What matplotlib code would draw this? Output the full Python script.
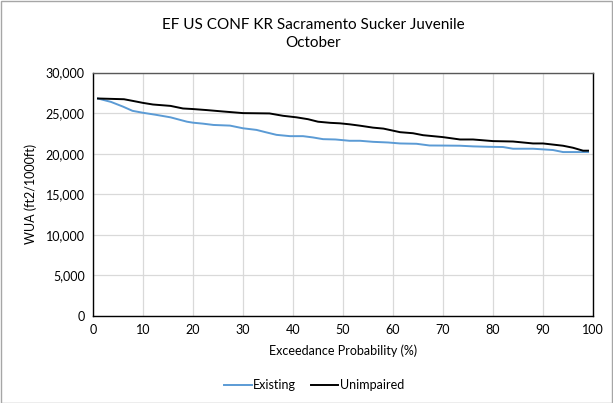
import matplotlib
matplotlib.use("Agg")
from matplotlib import pyplot as plt
from matplotlib.patches import Rectangle

# exceedance probability (%) and WUA (ft2/1000ft)
existing_x = [1, 3.6, 6, 7.9, 10, 12.5, 15.5, 18.8, 20, 22, 24.1, 27.4, 30, 32.7,
              34.5, 36.7, 39.4, 42, 44, 46, 48.5, 51.3, 53.4, 56, 59, 61.4, 64.7,
              67.3, 70, 73.4, 76, 79, 82, 84, 88, 92, 94, 96, 99]
existing_y = [26800, 26380, 25800, 25280, 25040, 24800, 24480, 23940, 23820, 23700,
              23540, 23460, 23130, 22930, 22650, 22320, 22160, 22160, 22000, 21790,
              21750, 21590, 21590, 21460, 21380, 21260, 21220, 21010, 21000, 20980,
              20900, 20850, 20820, 20610, 20610, 20450, 20200, 20200, 20200]

unimpaired_x = [1, 6.2, 8, 10, 12, 15.5, 18, 20, 22.8, 26, 30, 35.3, 38, 40.7, 43,
                45, 47.5, 49.4, 51.3, 53.4, 56, 58.1, 61.4, 64, 66, 70, 73.4, 76,
                80, 84, 88, 90, 94, 96, 98, 99]
unimpaired_y = [26800, 26710, 26500, 26260, 26060, 25890, 25570, 25500, 25370, 25200,
                25000, 24960, 24670, 24480, 24250, 23940, 23800, 23740, 23620, 23450,
                23210, 23090, 22650, 22520, 22280, 22040, 21750, 21750, 21550, 21500,
                21260, 21260, 20980, 20730, 20370, 20370]

x_ticks = list(range(0, 101, 10))
y_ticks = list(range(0, 30001, 5000))

plt.rcParams['font.family'] = ['Lato', 'DejaVu Sans']

fig = plt.figure(figsize=(6.13, 4.03), dpi=100)
ax = fig.add_axes([0.1517, 0.216, 0.8157, 0.604])

ax.plot(existing_x, existing_y, color='#5b9bd5', lw=1.4, label='Existing')
ax.plot(unimpaired_x, unimpaired_y, color='black', lw=1.4, label='Unimpaired')

ax.set_xlim(0, 100)
ax.set_ylim(0, 30000)
ax.set_xticks(x_ticks)
ax.set_yticks(y_ticks)
ax.set_yticklabels([f"{v:,}" for v in y_ticks])
ax.grid(True, color='#d9d9d9', lw=0.9)
ax.set_axisbelow(True)
ax.tick_params(length=0, labelsize=9, colors='black', pad=6)
for s in ax.spines.values():
    s.set_color('black')
    s.set_linewidth(1.0)
ax.spines['top'].set_color('#595959')

ax.set_xlabel('Exceedance Probability (%)', fontsize=9, labelpad=6)
ax.set_ylabel('WUA (ft2/1000ft)', fontsize=9, labelpad=6)
fig.text(0.511, 0.915, 'EF US CONF KR Sacramento Sucker Juvenile\nOctober',
         ha='center', va='center', fontsize=11, linespacing=1.35)

ax.legend(loc='center', bbox_to_anchor=(0.442, -0.284), ncol=2, frameon=False,
          fontsize=9, handlelength=2.2, handletextpad=0.1, columnspacing=1.2)

fig.patches.append(Rectangle((0.001, 0.001), 0.997, 0.997, transform=fig.transFigure,
                             fill=False, edgecolor='#a6a6a6', lw=1))

fig.savefig('out.png', dpi=100)
